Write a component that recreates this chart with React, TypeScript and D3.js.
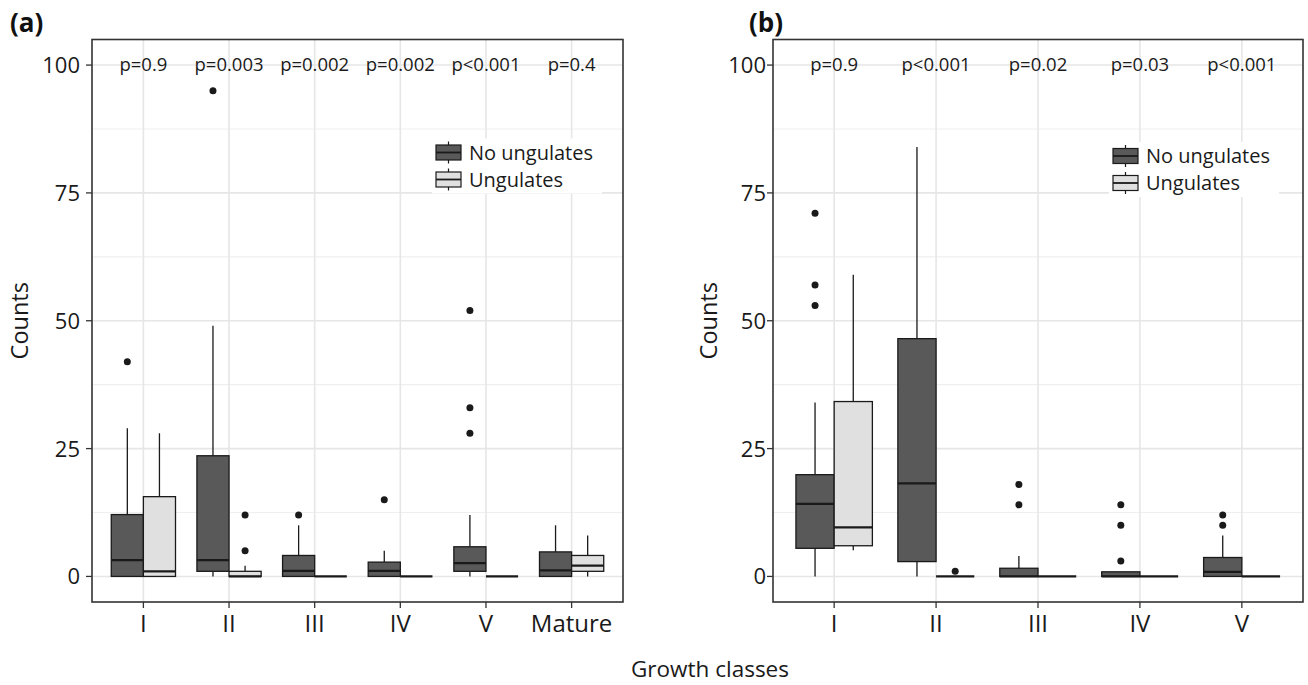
import React, { useRef, useEffect } from "react";
import * as d3 from "d3";

// Growth classes per panel
const classesA = ["I", "II", "III", "IV", "V", "Mature"];
const classesB = ["I", "II", "III", "IV", "V"];
const pValuesA = ["p=0.9", "p=0.003", "p=0.002", "p=0.002", "p<0.001", "p=0.4"];
const pValuesB = ["p=0.9", "p<0.001", "p=0.02", "p=0.03", "p<0.001"];
const groups = ["No ungulates", "Ungulates"];
const yTicks = [0, 25, 50, 75, 100];
const yMinor = [12.5, 37.5, 62.5, 87.5];

// box stats: [lower whisker, q1, median, q3, upper whisker]
const noUngulatesA = [
  [0, 0, 3.2, 12.1, 29],
  [0, 1, 3.2, 23.6, 49],
  [0, 0, 1.1, 4.1, 10],
  [0, 0, 1.1, 2.8, 5],
  [0, 1, 2.6, 5.8, 12],
  [0, 0, 1.2, 4.8, 10],
];
const ungulatesA = [
  [0, 0, 1, 15.6, 28],
  [0, 0, 0, 1, 2.1],
  [0, 0, 0, 0, 0],
  [0, 0, 0, 0, 0],
  [0, 0, 0, 0, 0],
  [0, 1, 2.1, 4.1, 8],
];
const noUngulatesOutA = [[42], [95], [12], [15], [52, 33, 28], []];
const ungulatesOutA = [[], [12, 5], [], [], [], []];

const noUngulatesB = [
  [0, 5.5, 14.2, 19.9, 34],
  [0, 2.9, 18.2, 46.5, 84],
  [0, 0, 0, 1.6, 4],
  [0, 0, 0, 0.9, 0.9],
  [0, 0, 0.9, 3.7, 8],
];
const ungulatesB = [
  [5.1, 6, 9.6, 34.2, 59],
  [0, 0, 0, 0, 0],
  [0, 0, 0, 0, 0],
  [0, 0, 0, 0, 0],
  [0, 0, 0, 0, 0],
];
const noUngulatesOutB = [[71, 57, 53], [], [18, 14], [14, 10, 3], [12, 10]];
const ungulatesOutB = [[], [1], [], [], []];

const W = 1308;
const H = 685;
const FONT = "'Open Sans', 'DejaVu Sans', sans-serif";
const INK = "#1a1a1a";
const fills = ["#595959", "#e0e0e0"];

const panels = [
  {
    tag: "(a)", tagX: 10, left: 92, right: 623, labelGap: 12, titleX: 28,
    legendX: 436, legendY: 152.5,
    classes: classesA, pValues: pValuesA,
    stats: [noUngulatesA, ungulatesA], outliers: [noUngulatesOutA, ungulatesOutA],
  },
  {
    tag: "(b)", tagX: 749, left: 773, right: 1303, labelGap: 7, titleX: 717,
    legendX: 1113, legendY: 156,
    classes: classesB, pValues: pValuesB,
    stats: [noUngulatesB, ungulatesB], outliers: [noUngulatesOutB, ungulatesOutB],
  },
];

const App = () => {
  const ref = useRef<SVGSVGElement>(null);

  useEffect(() => {
    const svg = d3.select(ref.current);
    svg.selectAll("*").remove();

    const top = 39.5, bottom = 602;
    const y = d3.scaleLinear().domain([-5, 105]).range([bottom, top]);

    panels.forEach((p) => {
      const g = svg.append("g");
      const x = d3.scalePoint<string>().domain(p.classes).range([p.left, p.right]).padding(0.6);
      const half = x.step() * 0.375;

      // fondo y rejilla
      g.append("rect")
        .attr("x", p.left).attr("y", top)
        .attr("width", p.right - p.left).attr("height", bottom - top)
        .attr("fill", "white");
      g.selectAll(".minor").data(yMinor).join("line")
        .attr("x1", p.left).attr("x2", p.right)
        .attr("y1", (d) => y(d)).attr("y2", (d) => y(d))
        .attr("stroke", "#efefef").attr("stroke-width", 1.2);
      g.selectAll(".major").data(yTicks).join("line")
        .attr("x1", p.left).attr("x2", p.right)
        .attr("y1", (d) => y(d)).attr("y2", (d) => y(d))
        .attr("stroke", "#e6e6e6").attr("stroke-width", 1.6);
      g.selectAll(".vgrid").data(p.classes).join("line")
        .attr("x1", (d) => x(d)!).attr("x2", (d) => x(d)!)
        .attr("y1", top).attr("y2", bottom)
        .attr("stroke", "#e6e6e6").attr("stroke-width", 1.6);

      // cajas
      p.classes.forEach((c, i) => {
        const cx = x(c)!;
        [0, 1].forEach((k) => {
          const [lo, q1, med, q3, hi] = p.stats[k][i];
          const x0 = k === 0 ? cx - half : cx;
          const xm = x0 + half / 2;
          g.append("line")
            .attr("x1", xm).attr("x2", xm).attr("y1", y(hi)).attr("y2", y(q3))
            .attr("stroke", INK).attr("stroke-width", 1.3);
          g.append("line")
            .attr("x1", xm).attr("x2", xm).attr("y1", y(q1)).attr("y2", y(lo))
            .attr("stroke", INK).attr("stroke-width", 1.3);
          g.append("rect")
            .attr("x", x0).attr("y", y(q3))
            .attr("width", half).attr("height", y(q1) - y(q3))
            .attr("fill", fills[k]).attr("stroke", INK).attr("stroke-width", 1.3);
          g.append("line")
            .attr("x1", x0).attr("x2", x0 + half).attr("y1", y(med)).attr("y2", y(med))
            .attr("stroke", INK).attr("stroke-width", 2.2);
          g.selectAll(null).data(p.outliers[k][i]).join("circle")
            .attr("cx", xm).attr("cy", (d) => y(d)).attr("r", 3.5)
            .attr("fill", INK);
        });
      });

      // p-valores
      g.selectAll(".pval").data(p.pValues).join("text")
        .attr("x", (_d, i) => x(p.classes[i])!).attr("y", 71)
        .attr("text-anchor", "middle")
        .style("font-family", FONT).style("font-size", "18.5px").attr("fill", INK)
        .text((d) => d);

      // leyenda
      g.append("rect")
        .attr("x", p.legendX - 4).attr("y", p.legendY - 14)
        .attr("width", 170).attr("height", 27 + 28)
        .attr("fill", "white");
      groups.forEach((name, k) => {
        const cy = p.legendY + k * 27;
        const kx = p.legendX + 12.5;
        g.append("line")
          .attr("x1", kx).attr("x2", kx).attr("y1", cy - 11).attr("y2", cy + 11)
          .attr("stroke", INK).attr("stroke-width", 1.2);
        g.append("rect")
          .attr("x", p.legendX).attr("y", cy - 7.5).attr("width", 25).attr("height", 15)
          .attr("fill", fills[k]).attr("stroke", INK).attr("stroke-width", 1.2);
        g.append("line")
          .attr("x1", p.legendX).attr("x2", p.legendX + 25).attr("y1", cy).attr("y2", cy)
          .attr("stroke", INK).attr("stroke-width", 1.8);
        g.append("text")
          .attr("x", p.legendX + 33).attr("y", cy + 7)
          .style("font-family", FONT).style("font-size", "20px").attr("fill", INK)
          .text(name);
      });

      // borde
      g.append("rect")
        .attr("x", p.left).attr("y", top)
        .attr("width", p.right - p.left).attr("height", bottom - top)
        .attr("fill", "none").attr("stroke", "#333").attr("stroke-width", 1.6);

      // ejes
      g.selectAll(".ytick").data(yTicks).join("line")
        .attr("x1", p.left - 6).attr("x2", p.left)
        .attr("y1", (d) => y(d)).attr("y2", (d) => y(d))
        .attr("stroke", "#333").attr("stroke-width", 1.3);
      g.selectAll(".ylab").data(yTicks).join("text")
        .attr("x", p.left - p.labelGap).attr("y", (d) => y(d) + 8)
        .attr("text-anchor", "end")
        .style("font-family", FONT).style("font-size", "22px").attr("fill", INK)
        .text((d) => d);
      g.selectAll(".xtick").data(p.classes).join("line")
        .attr("x1", (d) => x(d)!).attr("x2", (d) => x(d)!)
        .attr("y1", bottom).attr("y2", bottom + 6)
        .attr("stroke", "#333").attr("stroke-width", 1.3);
      g.selectAll(".xlab").data(p.classes).join("text")
        .attr("x", (d) => x(d)!).attr("y", 632)
        .attr("text-anchor", "middle")
        .style("font-family", FONT).style("font-size", "24px").attr("fill", INK)
        .text((d) => d);

      g.append("text")
        .attr("transform", `translate(${p.titleX}, ${(top + bottom) / 2}) rotate(-90)`)
        .attr("text-anchor", "middle")
        .style("font-family", FONT).style("font-size", "23.5px").attr("fill", INK)
        .text("Counts");
      g.append("text")
        .attr("x", p.tagX).attr("y", 32)
        .style("font-family", FONT).style("font-size", "26px").style("font-weight", "bold")
        .attr("fill", "#111")
        .text(p.tag);
    });

    svg.append("text")
      .attr("x", 710).attr("y", 677)
      .attr("text-anchor", "middle")
      .style("font-family", FONT).style("font-size", "22.5px").attr("fill", INK)
      .text("Growth classes");
  }, []);

  return (
    <svg
      ref={ref}
      width={W}
      height={H}
      style={{ position: "absolute", left: 0, top: 0, background: "white" }}
    />
  );
};

export default App;
